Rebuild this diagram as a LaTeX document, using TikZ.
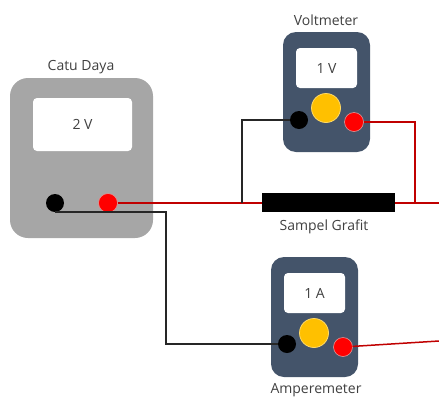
\documentclass[tikz,border=0pt]{standalone}
\usepackage{fontspec}
\setmainfont{Open Sans}
\usetikzlibrary{positioning}
\definecolor{casegrey}{HTML}{A6A6A6}
\definecolor{meterblue}{HTML}{44546A}
\definecolor{dialgold}{HTML}{FFC000}
\definecolor{wirered}{HTML}{C00000}
\definecolor{labelgrey}{HTML}{404040}

\begin{document}
\begin{tikzpicture}[x=1pt, y=-1pt, semithick,
                    every node/.style={inner sep=0pt, outer sep=0pt}]
    \tikzstyle{case}=[fill=meterblue, rounded corners=13pt, minimum width=87pt, minimum height=120pt]
    \tikzstyle{display}=[fill=white, rounded corners=4pt, minimum width=61pt, minimum height=40pt,
                         text=labelgrey, font=\fontsize{14}{16}\selectfont]
    \tikzstyle{caption}=[text=labelgrey, font=\fontsize{14}{16}\selectfont]
    \tikzstyle{dial}=[circle, fill=dialgold, draw=dialgold!60!white, thick, minimum size=29pt]
    \tikzstyle{blackpin}=[circle, fill=black, minimum size=18pt]
    \tikzstyle{redpin}=[circle, fill=red, draw=red!70!black!40!white, minimum size=19pt]
    \tikzstyle{blackwire}=[draw=black!85, line width=1.5pt]
    \tikzstyle{redwire}=[draw=wirered, line width=1.5pt]

    \useasboundingbox (0,0) rectangle (439,397);

    \node[case, fill=casegrey, rounded corners=18pt, minimum width=143pt, minimum height=160pt]
                             (catu)     at (81.5,158)      {};
    \node[display, minimum width=99pt, minimum height=53pt]
                             (catudisp) at (82.5,124.5)    {2 V};
    \node[caption]           (catulab)  at (81,67)         {Catu Daya};
    \node[blackpin]          (catublk)  at (55,203)        {};
    \node[redpin]            (catured)  at (108,203)       {};

    \node[case]              (volt)     at (326.5,92)      {};
    \node[display]           (voltdisp) at (326.5,68)      {1 V};
    \node[caption]           (voltlab)  at (326,20)        {Voltmeter};
    \node[dial]              (voltdial) at (326,108)       {};
    \node[blackpin]          (voltblk)  at (299,120)       {};
    \node[redpin]            (voltred)  at (354,122)       {};

    \node[case]              (amp)      at (314.5,317)     {};
    \node[display]           (ampdisp)  at (314.5,293)     {1 A};
    \node[caption]           (amplab)   at (316,390)       {Amperemeter};
    \node[dial]              (ampdial)  at (314,333)       {};
    \node[blackpin]          (ampblk)   at (287,344)       {};
    \node[redpin]            (ampred)   at (343,347)       {};

    \coordinate (tapleft)   at (242,203);
    \coordinate (tapright)  at (415,203);
    \coordinate (sampleend) at (439,203);
    \coordinate (ampend)    at (439,341);
    \coordinate (catubend)  at (166,280);

    \path[redwire]   (catured) -- (sampleend);
    \path[redwire]   (voltred) -| (tapright);
    \path[redwire]   (ampred)  -- (ampend);
    \path[blackwire] (voltblk) -| (tapleft);
    \path[blackwire] (catublk.south) -| (catubend) |- (ampblk);

    \node[fill=black, minimum width=133pt, minimum height=19pt]
                             (sample)   at (328.5,202.5)   {};
    \node[caption]           (samplab)  at (324,227)       {Sampel Grafit};
\end{tikzpicture}
\end{document}
